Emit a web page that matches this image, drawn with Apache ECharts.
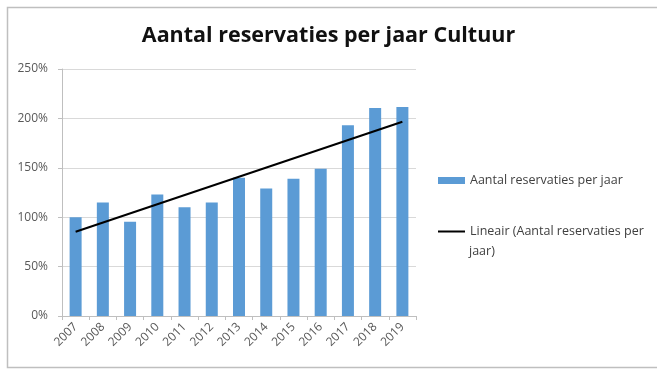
<!DOCTYPE html>
<html>
<head>
<meta charset="utf-8">
<script src="https://cdn.jsdelivr.net/npm/echarts@6/dist/echarts.min.js"></script>
<style>
  html, body { margin: 0; padding: 0; background: #fff; }
  #chart { width: 657px; height: 369px; }
</style>
</head>
<body>
<div id="chart"></div>
<script>
// jaren en waarden (in %)
const years = ['2007', '2008', '2009', '2010', '2011', '2012', '2013', '2014', '2015', '2016', '2017', '2018', '2019'];
const reservaties = [100, 115, 95.5, 123, 110, 115, 140, 129, 139, 149, 193, 210.5, 211.5];
const trendStart = 85.3;
const trendEnd = 196.6;
const yTicks = [0, 50, 100, 150, 200, 250];

const barName = 'Aantal reservaties per jaar';
const trendName = 'Lineair (Aantal reservaties per jaar)';
const font = '"Open Sans", "Noto Sans", sans-serif';

const trendData = years.map((y, i) => i === 0 ? trendStart : (i === years.length - 1 ? trendEnd : null));

const chart = echarts.init(document.getElementById('chart'));
const option = {
    animation: false,
    textStyle: { fontFamily: font },
    title: {
        text: 'Aantal reservaties per jaar Cultuur',
        left: 'center',
        top: 20,
        textStyle: { fontSize: 21.5, fontWeight: 'bold', color: '#111', fontFamily: font }
    },
    graphic: [
        {
            type: 'rect',
            shape: { x: 7.5, y: 7.5, width: 700, height: 360 },
            style: { fill: 'none', stroke: '#bfbfbf', lineWidth: 1.5 },
            silent: true
        },
        {
            type: 'text',
            left: 469,
            top: 245,
            style: { text: 'jaar)', fontSize: 12.5, fill: '#404040', fontFamily: font }
        }
    ],
    legend: [
        {
            data: [{ name: barName, icon: 'rect' }],
            left: 438,
            top: 174,
            padding: 0,
            itemWidth: 27,
            itemHeight: 7,
            textStyle: { fontSize: 12.5, color: '#404040', fontFamily: font }
        },
        {
            data: [{ name: trendName, icon: 'rect' }],
            left: 438,
            top: 225,
            padding: 0,
            itemWidth: 27,
            itemHeight: 2,
            formatter: () => 'Lineair (Aantal reservaties per',
            textStyle: { fontSize: 12.5, color: '#404040', fontFamily: font }
        }
    ],
    grid: { left: 62, right: 241, top: 69, bottom: 53 },
    xAxis: {
        type: 'category',
        data: years,
        axisLine: { lineStyle: { color: '#bfbfbf' } },
        axisTick: { show: true, length: 4, lineStyle: { color: '#bfbfbf' } },
        axisLabel: { rotate: 45, fontSize: 12, color: '#595959', margin: 9, fontFamily: font }
    },
    yAxis: {
        type: 'value',
        min: 0,
        max: 250,
        interval: 50,
        axisLine: { show: true, lineStyle: { color: '#bfbfbf' } },
        axisTick: { show: true, length: 4, lineStyle: { color: '#bfbfbf' } },
        axisLabel: { fontSize: 12, color: '#595959', margin: 14, fontFamily: font, formatter: v => yTicks.includes(v) ? v + '%' : '' },
        splitLine: { lineStyle: { color: '#d9d9d9' } }
    },
    series: [
        {
            name: barName,
            type: 'bar',
            data: reservaties,
            barWidth: 12,
            itemStyle: { color: '#5b9bd5' }
        },
        {
            name: trendName,
            type: 'line',
            data: trendData,
            connectNulls: true,
            symbol: 'none',
            lineStyle: { color: '#000', width: 2 },
            itemStyle: { color: '#000' }
        }
    ]
};
chart.setOption(option);
</script>
</body>
</html>
